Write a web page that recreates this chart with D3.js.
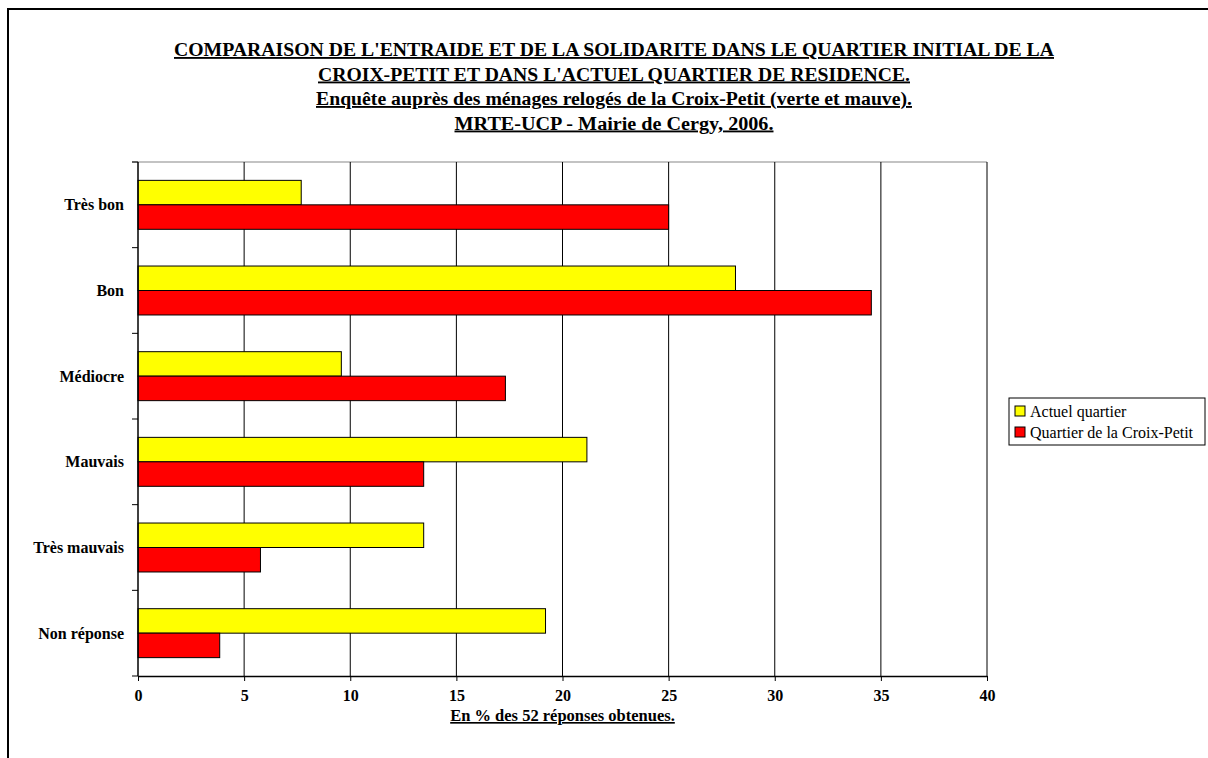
<!DOCTYPE html>
<html><head><meta charset="utf-8">
<script src="https://cdn.jsdelivr.net/npm/d3@7"></script>
<style>
html,body{margin:0;padding:0;background:#fff;}
text{font-family:"Liberation Serif","Times New Roman",serif;}
</style></head>
<body>
<svg id="chart" width="1208" height="758"></svg>
<script>
const categories = ["Très bon","Bon","Médiocre","Mauvais","Très mauvais","Non réponse"];
const seriesNames = ["Actuel quartier","Quartier de la Croix-Petit"];
const actuelValues = [7.69, 28.15, 9.58, 21.15, 13.46, 19.2];
const croixValues = [25.0, 34.55, 17.31, 13.46, 5.77, 3.85];
const seriesColors = ["#FFFF00","#FF0000"];
const xTicks = [0,5,10,15,20,25,30,35,40];
const titleLines = [
  "COMPARAISON DE L'ENTRAIDE ET DE LA SOLIDARITE DANS LE QUARTIER INITIAL DE LA",
  "CROIX-PETIT ET DANS L'ACTUEL QUARTIER DE RESIDENCE.",
  "Enquête auprès des ménages relogés de la Croix-Petit (verte et mauve).",
  "MRTE-UCP - Mairie de Cergy, 2006."
];
const titleWidths = [880, 592, 596, 319];
const xAxisTitle = "En % des 52 réponses obtenues.";

const svg = d3.select("#chart");
const seriesValues = [actuelValues, croixValues];

// outer frame
svg.append("path").attr("d","M8,758 V9 H1208").attr("fill","none").attr("stroke","#000").attr("stroke-width",2);

// title
svg.append("g").selectAll("text").data(titleLines).join("text")
  .attr("x",614).attr("y",(d,i)=>56+i*24.5)
  .attr("text-anchor","middle")
  .attr("font-size",18.5).attr("font-weight","bold")
  .attr("text-decoration","underline")
  .attr("textLength",(d,i)=>titleWidths[i])
  .attr("lengthAdjust","spacingAndGlyphs")
  .text(d=>d);

const x = d3.scaleLinear().domain([0,40]).range([138,987]);
const y = d3.scaleBand().domain(categories).range([162,676]);
const ySub = d3.scaleBand().domain(d3.range(seriesNames.length)).range([0,y.bandwidth()]).paddingInner(0).paddingOuter(0.75);

// top border of plot
svg.append("line").attr("x1",132).attr("x2",x(40)).attr("y1",162).attr("y2",162).attr("stroke","#888").attr("stroke-width",1.2);

// gridlines
svg.append("g").selectAll("line").data(xTicks.filter(t=>t>0)).join("line")
  .attr("x1",d=>x(d)).attr("x2",d=>x(d)).attr("y1",162).attr("y2",676)
  .attr("stroke","#000").attr("stroke-width",1);

// bars
const rows = categories.map((c,i)=>({cat:c, vals: seriesValues.map(s=>s[i])}));
const g = svg.append("g");
rows.forEach(r=>{
  r.vals.forEach((v,si)=>{
    g.append("rect")
      .attr("x",x(0)).attr("y",y(r.cat)+ySub(si))
      .attr("width",x(v)-x(0)).attr("height",ySub.bandwidth())
      .attr("fill",seriesColors[si]).attr("stroke","#000").attr("stroke-width",1);
  });
});

// left axis
svg.append("line").attr("x1",x(0)).attr("x2",x(0)).attr("y1",162).attr("y2",676).attr("stroke","#000").attr("stroke-width",1.5);
const bounds = categories.map(c=>y(c)).concat([y.range()[1]]);
svg.append("g").selectAll("line").data(bounds).join("line")
  .attr("x1",x(0)-6).attr("x2",x(0)).attr("y1",d=>d).attr("y2",d=>d)
  .attr("stroke","#000").attr("stroke-width",1);
svg.append("g").selectAll("text").data(categories).join("text")
  .attr("x",124).attr("y",d=>y(d)+y.bandwidth()/2)
  .attr("dy","0.35em").attr("text-anchor","end")
  .attr("font-size",16).attr("font-weight","bold")
  .text(d=>d);

// bottom axis
const xAxis = d3.axisBottom(x).tickValues(xTicks).tickSize(5).tickSizeOuter(0).tickPadding(9);
const ax = svg.append("g").attr("transform","translate(0,676)").call(xAxis);
ax.select(".domain").attr("stroke","#000").attr("stroke-width",1.5);
ax.selectAll(".tick line").attr("stroke","#000");
ax.selectAll(".tick text").attr("font-family","Liberation Serif, serif").attr("font-size",16).attr("font-weight","bold").attr("fill","#000");

svg.append("text").attr("x",(x(0)+x(40))/2).attr("y",721)
  .attr("text-anchor","middle").attr("font-size",16.5).attr("font-weight","bold")
  .attr("text-decoration","underline").text(xAxisTitle);

// legend
const lg = svg.append("g");
lg.append("rect").attr("x",1009).attr("y",398).attr("width",196).attr("height",47)
  .attr("fill","#fff").attr("stroke","#000").attr("stroke-width",1);
seriesNames.forEach((n,i)=>{
  const cy = 411 + i*21;
  lg.append("rect").attr("x",1015).attr("y",cy-5).attr("width",10).attr("height",10)
    .attr("fill",seriesColors[i]).attr("stroke","#000").attr("stroke-width",1);
  lg.append("text").attr("x",1030).attr("y",cy).attr("dy","0.35em")
    .attr("font-size",16).text(n);
});
</script>
</body></html>
